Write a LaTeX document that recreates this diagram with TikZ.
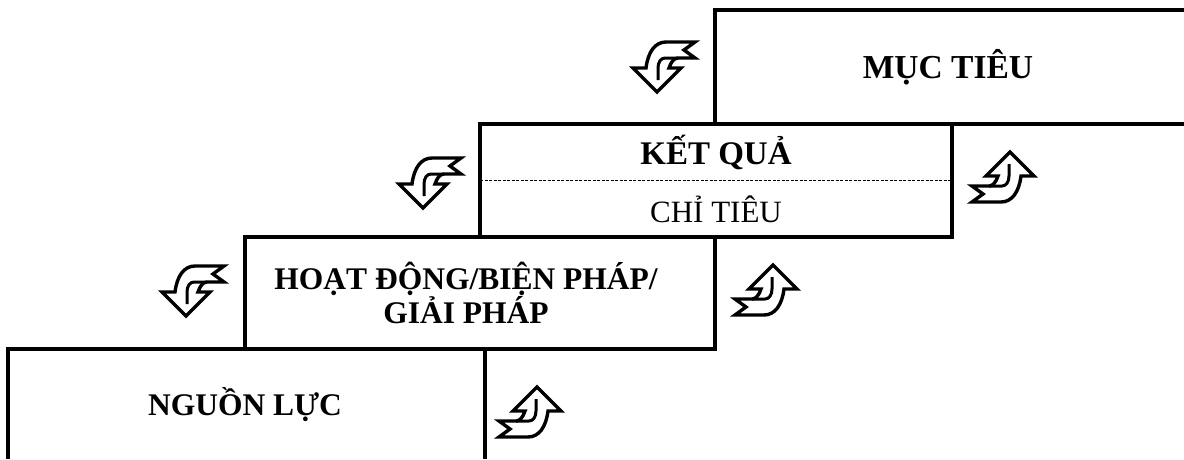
\documentclass[tikz,border=0pt]{standalone}
\usepackage{fontspec}
\setmainfont{Liberation Serif}
\begin{document}
\begin{tikzpicture}[x=1pt,y=-1pt,
  frame/.style={line width=3.5pt, line join=miter},
  sep/.style={line width=1pt, dash pattern=on 3pt off 1.5pt},
  lbl/.style={font=\fontsize{31.5}{34}\selectfont\bfseries, align=center, inner sep=0pt},
  lblreg/.style={font=\fontsize{31}{34}\selectfont, align=center, inner sep=0pt},
  pics/turnarrow/.style={code={
    \draw[line width=3.4pt, line join=miter, fill=white]
      (-7,26) -- (-31,2) -- (-18,2)
      .. controls (-16,-14) and (-9,-24) .. (2,-24)
      -- (31,-24) -- (20,-16) -- (31,-8) -- (14,-8)
      .. controls (10,-8) and (7,-4) .. (5,2)
      -- (17,2) -- cycle;
    \draw[line width=3pt]
      (14,-8) -- (1,-8) .. controls (-3,-8) and (-6,-4) .. (-6,2) -- (-6,14);
  }}
]
\useasboundingbox (0,0) rectangle (1184,459);
% staircase frame
\draw[frame] (715,124) -- (715,10) -- (1184,10);
\draw[frame] (480,237) -- (480,124) -- (1184,124);
\draw[frame] (245,349) -- (245,237) -- (952,237) -- (952,124);
\draw[frame] (715,237) -- (715,349) -- (8,349) -- (8,459);
\draw[frame] (485,349) -- (485,459);
\draw[sep] (480,180) -- (952,180);
% labels
\node[lbl, font=\fontsize{33.5}{36}\selectfont\bfseries] (muctieu) at (948,67) {MỤC TIÊU};
\node[lbl, font=\fontsize{33}{36}\selectfont\bfseries] (ketqua) at (716,152) {KẾT QUẢ};
\node[lblreg] (chitieu) at (716,209) {CHỈ TIÊU};
\node[lbl] (hoatdong) at (466,293) {HOẠT ĐỘNG/BIỆN PHÁP/\\GIẢI PHÁP};
\node[lbl] (nguonluc) at (245,405) {NGUỒN LỰC};
% arrows
\pic at (664,66) {turnarrow};
\pic at (430,182) {turnarrow};
\pic at (193,290) {turnarrow};
\pic[rotate=180] at (1003,178) {turnarrow};
\pic[rotate=180] at (766,291) {turnarrow};
\pic[rotate=180] at (530,413) {turnarrow};
\end{tikzpicture}
\end{document}
